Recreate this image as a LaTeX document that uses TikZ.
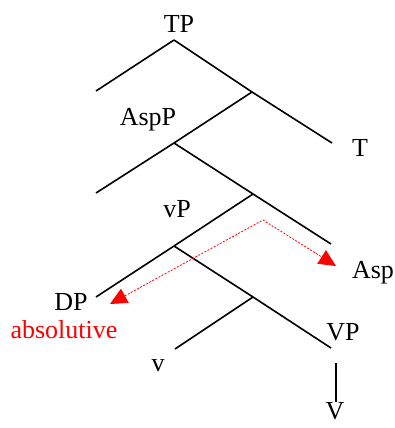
\documentclass[tikz,border=0pt]{standalone}
\usepackage{fontspec}
\setmainfont{Liberation Serif}
\usepackage{xcolor}
\usetikzlibrary{arrows.meta}
\definecolor{MoveRed}{HTML}{FF0000}

\begin{document}
\begin{tikzpicture}[x=1pt, y=-1pt,
    lbl/.style={anchor=base, inner sep=0pt, font=\fontsize{26}{30}\selectfont},
    branch/.style={line width=1.6pt},
    move/.style={{Triangle[length=17pt,width=16pt]}-{Triangle[length=17pt,width=16pt]},
      color=MoveRed, line width=0.8pt, dash pattern=on 2pt off 1.5pt}
  ]
    \useasboundingbox (0,0) rectangle (395,428);
    % tree vertices
    \coordinate (tp) at (174,40);
    \coordinate (tbar) at (252,92);
    \coordinate (tspec) at (96,91);
    \coordinate (thead) at (332,143);
    \coordinate (aspp) at (174,143);
    \coordinate (aspbar) at (253,194);
    \coordinate (aspspec) at (96,193);
    \coordinate (asphead) at (331,244);
    \coordinate (vp) at (174,246);
    \coordinate (vbar) at (253,297);
    \coordinate (dpend) at (96,297);
    \coordinate (vpend) at (331,348);
    \coordinate (vend) at (175,349);
    \coordinate (vtop) at (336,363);
    \coordinate (vbot) at (336,402);
    \coordinate (bend) at (263,220);
    % labels
    \node[lbl] (tplbl) at (179,33) {TP};
    \node[lbl] (tlbl) at (360,156) {T};
    \node[lbl] (aspplbl) at (148,125) {AspP};
    \node[lbl] (vplbl) at (177,217) {vP};
    \node[lbl] (asplbl) at (373,278) {Asp};
    \node[lbl] (dplbl) at (71,310) {DP};
    \node[lbl, text=MoveRed] (abslbl) at (64,338) {absolutive};
    \node[lbl] (bigvplbl) at (343,340) {VP};
    \node[lbl] (smallvlbl) at (158,371) {v};
    \node[lbl] (biglbl) at (335,419) {V};
    % branches
    \draw[branch] (tp) -- (tspec);
    \draw[branch] (tp) -- (tbar) -- (thead);
    \draw[branch] (tbar) -- (aspp);
    \draw[branch] (aspp) -- (aspspec);
    \draw[branch] (aspp) -- (aspbar) -- (asphead);
    \draw[branch] (aspbar) -- (vp);
    \draw[branch] (vp) -- (dpend);
    \draw[branch] (vp) -- (vbar) -- (vpend);
    \draw[branch] (vbar) -- (vend);
    \draw[branch] (vtop) -- (vbot);
    % movement
    \draw[move] (110,304) -- (bend) -- (336,266);
  \end{tikzpicture}
\end{document}
